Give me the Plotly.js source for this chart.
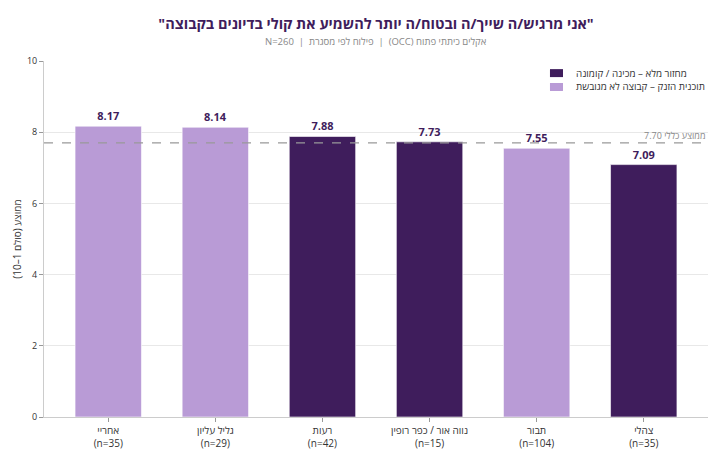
<!DOCTYPE html>
<html><head><meta charset="utf-8">
<script src="https://cdn.plot.ly/plotly-3.0.1.min.js"></script>
<style>html,body{margin:0;padding:0;background:#fff;}#c{width:714px;height:469px;}</style>
</head><body><div id="c"></div>
<script>
const categories = ["אחריי<br>(n=35)", "גליל עליון<br>(n=29)", "רעות<br>(n=42)", "נווה אור / כפר רופין<br>(n=15)", "תבור<br>(n=104)", "צהלי<br>(n=35)"];
const lightCats = ["אחריי<br>(n=35)", "גליל עליון<br>(n=29)", "תבור<br>(n=104)"];
const lightVals = [8.17, 8.14, 7.55];
const darkCats = ["רעות<br>(n=42)", "נווה אור / כפר רופין<br>(n=15)", "צהלי<br>(n=35)"];
const darkVals = [7.88, 7.73, 7.09];
const seriesNames = ["מחזור מלא – מכינה / קומונה", "תוכנית הזנק – קבוצה לא מגובשת"];
const overallMean = 7.70;
const yTicks = [0, 2, 4, 6, 8, 10];

const FONT = "Open Sans, Noto Sans, DejaVu Sans, sans-serif";
const DARK = "#3f1d5c";
const LIGHT = "#b99bd6";
const RLE = "\u202B", PDF = "\u202C";

const traces = [
  {type:"bar", name:seriesNames[0], x:darkCats, y:darkVals,
   marker:{color:DARK, line:{color:"rgba(255,255,255,0.6)", width:1}}, width:0.62,
   texttemplate:"%{y:.2f}", textposition:"outside", cliponaxis:false,
   textfont:{family:FONT, size:11, color:"#3f1d5c", weight:700}, hoverinfo:"skip"},
  {type:"bar", name:seriesNames[1], x:lightCats, y:lightVals,
   marker:{color:LIGHT, line:{color:"rgba(255,255,255,0.6)", width:1}}, width:0.62,
   texttemplate:"%{y:.2f}", textposition:"outside", cliponaxis:false,
   textfont:{family:FONT, size:11, color:"#3f1d5c", weight:700}, hoverinfo:"skip"}
];

// legend drawn as swatches + labels (paper coordinates)
const legendColors = [DARK, LIGHT];
const legRows = [0.966, 0.927];
const legShapes = legendColors.map((c, i) => ({type:"rect", xref:"paper", yref:"paper",
  x0:0.762, x1:0.7816, y0:legRows[i]-0.0112, y1:legRows[i]+0.0112,
  fillcolor:c, line:{width:0}, layer:"above"}));
const legAnn = seriesNames.map((n, i) => ({text:RLE + n + PDF, xref:"paper", yref:"paper",
  x:0.7985, y:legRows[i], xanchor:"left", yanchor:"middle", showarrow:false,
  font:{family:FONT, size:9.8, color:"#333"}}));

const layout = {
  width:714, height:469,
  margin:{l:44, r:6, t:61, b:52},
  paper_bgcolor:"#fff", plot_bgcolor:"#fff",
  font:{family:FONT, size:10, color:"#333"},
  barmode:"overlay",
  showlegend:false,
  title:{text:"<b>\"אני מרגיש/ה שייך/ה ובטוח/ה יותר להשמיע את קולי בדיונים בקבוצה\"</b>",
    xref:"paper", x:0.5, xanchor:"center", yref:"container", y:0.949, yanchor:"middle",
    font:{family:FONT, size:14.5, color:"#3f1d5c"}},
  annotations:[
    {text:RLE + "אקלים כיתתי פתוח (OCC)  |  פילוח לפי מסגרת  |  N=260" + PDF, xref:"paper", yref:"paper",
     x:0.5, y:1.0534, xanchor:"center", yanchor:"middle", showarrow:false,
     font:{family:FONT, size:9.5, color:"#888"}},
    {text:RLE + "ממוצע כללי " + overallMean.toFixed(2) + PDF, xref:"paper", yref:"y",
     x:1, y:overallMean, xanchor:"right", yanchor:"bottom", showarrow:false, yshift:-1,
     font:{family:FONT, size:9, color:"#888"}}
  ].concat(legAnn),
  shapes:[
    {type:"line", xref:"paper", yref:"y", x0:0, x1:1, y0:overallMean, y1:overallMean,
     line:{color:"#999", width:1.2, dash:"dash"}, layer:"above"}
  ].concat(legShapes),
  xaxis:{type:"category", categoryorder:"array", categoryarray:categories,
    range:[-0.6, 5.6], showline:true, linecolor:"#ccc", linewidth:1,
    ticks:"outside", ticklen:4, tickcolor:"#999", showgrid:false,
    tickfont:{family:FONT, size:10, color:"#333"}},
  yaxis:{range:[0,10], tickvals:yTicks, showline:true, linecolor:"#ccc", linewidth:1,
    ticks:"outside", ticklen:4, tickcolor:"#999", gridcolor:"#e8e8e8", zeroline:false,
    tickfont:{family:FONT, size:9, color:"#333"},
    title:{text:RLE + "ממוצע (סולם 1–10)" + PDF, font:{family:FONT, size:10, color:"#333"}, standoff:3}}
};

Plotly.newPlot("c", traces, layout, {displayModeBar:false, staticPlot:true});
</script></body></html>
